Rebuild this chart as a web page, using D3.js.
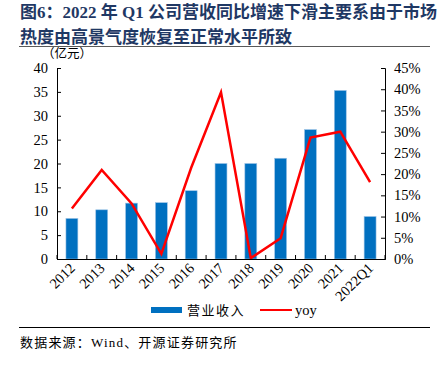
<!DOCTYPE html>
<html>
<head>
<meta charset="utf-8">
<script src="https://cdn.jsdelivr.net/npm/d3@7"></script>
<style>
  body { margin: 0; background: #fff; }
  svg { display: block; }
</style>
</head>
<body>
<div id="chart"></div>
<script>
// Data
const categories = ["2012", "2013", "2014", "2015", "2016", "2017", "2018", "2019", "2020", "2021", "2022Q1"];
const revenue = [8.5, 10.3, 11.7, 11.8, 14.3, 20.0, 20.0, 21.1, 27.1, 35.3, 8.9];
const yoy = [11.9, 21.0, 13.1, 1.2, 21.5, 39.3, 0.2, 4.9, 28.6, 30.0, 18.1];
const leftTicks = [0, 5, 10, 15, 20, 25, 30, 35, 40];
const rightTicks = [0, 5, 10, 15, 20, 25, 30, 35, 40, 45];

const W = 441, H = 365;
const SERIF = "'Liberation Serif', 'Times New Roman', 'Noto Sans CJK SC', serif";
const CJK = "'Liberation Serif', 'Noto Sans CJK SC', serif";
const TITLE_COLOR = "#1f3864";
const BAR_COLOR = "#0070c0";

const plot = { left: 57, right: 385, top: 68, bottom: 259 };

const svg = d3.select("#chart").append("svg")
  .attr("width", W)
  .attr("height", H);

// Title
const title = svg.append("text")
  .attr("fill", TITLE_COLOR)
  .attr("font-family", CJK)
  .attr("font-weight", "bold")
  .attr("font-size", "17px");
title.append("tspan").attr("x", 20).attr("y", 18).text("图6：2022 年 Q1 公司营收同比增速下滑主要系由于市场");
title.append("tspan").attr("x", 20).attr("y", 43).text("热度由高景气度恢复至正常水平所致");

svg.append("line")
  .attr("x1", 19).attr("x2", 430)
  .attr("y1", 46.5).attr("y2", 46.5)
  .attr("stroke", "#595959").attr("stroke-width", 1.2);

// Scales
const x = d3.scaleBand()
  .domain(categories)
  .range([plot.left, plot.right]);

const yL = d3.scaleLinear()
  .domain([0, 40])
  .range([plot.bottom, plot.top]);

const yR = d3.scaleLinear()
  .domain([0, 45])
  .range([plot.bottom, plot.top]);

// Bars
svg.append("g")
  .selectAll("rect")
  .data(revenue)
  .join("rect")
  .attr("x", (d, i) => x(categories[i]) + x.bandwidth() * 0.3)
  .attr("width", x.bandwidth() * 0.4)
  .attr("y", d => yL(d))
  .attr("height", d => yL(0) - yL(d))
  .attr("fill", BAR_COLOR)
  .attr("stroke", "#9dc3e6")
  .attr("stroke-width", 0.6);

// Line
const line = d3.line()
  .x((d, i) => x(categories[i]) + x.bandwidth() / 2)
  .y(d => yR(d));

svg.append("path")
  .datum(yoy)
  .attr("d", line)
  .attr("fill", "none")
  .attr("stroke", "#ff0000")
  .attr("stroke-width", 2.5)
  .attr("stroke-linejoin", "miter");

// Axes
const leftAxis = svg.append("g")
  .attr("transform", `translate(${plot.left},0)`)
  .call(d3.axisLeft(yL).tickValues(leftTicks).tickSize(-4).tickPadding(9));

const rightAxis = svg.append("g")
  .attr("transform", `translate(${plot.right},0)`)
  .call(d3.axisRight(yR).tickValues(rightTicks).tickSize(-4).tickPadding(9).tickFormat(d => d + "%"));

const xAxis = svg.append("g")
  .attr("transform", `translate(0,${plot.bottom})`)
  .call(d3.axisBottom(x).tickSize(0).tickFormat(""));

// x ticks at band boundaries, pointing up
svg.append("g")
  .selectAll("line")
  .data(d3.range(categories.length + 1))
  .join("line")
  .attr("x1", i => plot.left + i * x.step())
  .attr("x2", i => plot.left + i * x.step())
  .attr("y1", plot.bottom)
  .attr("y2", plot.bottom - 4)
  .attr("stroke", "#000");

[leftAxis, rightAxis, xAxis].forEach(a => {
  a.select(".domain").attr("stroke", "#000").attr("stroke-width", 1);
  a.selectAll(".tick line").attr("stroke", "#000");
  a.selectAll("text")
    .attr("font-family", SERIF)
    .attr("font-size", "14.5px")
    .attr("fill", "#000");
});

// x labels rotated
svg.append("g")
  .selectAll("text")
  .data(categories)
  .join("text")
  .attr("transform", d => `translate(${x(d) + x.bandwidth() / 2 + 4},${plot.bottom + 10}) rotate(-45)`)
  .attr("text-anchor", "end")
  .attr("font-family", SERIF)
  .attr("font-size", "14.5px")
  .text(d => d);

// Unit label
svg.append("text")
  .attr("x", 42).attr("y", 58)
  .attr("font-family", CJK)
  .attr("font-size", "12.5px")
  .text("（亿元）");

// Legend
const legend = svg.append("g");
legend.append("rect")
  .attr("x", 151).attr("y", 307)
  .attr("width", 31).attr("height", 6)
  .attr("fill", BAR_COLOR);
legend.append("text")
  .attr("x", 187).attr("y", 315)
  .attr("font-family", CJK)
  .attr("font-size", "13px")
  .attr("letter-spacing", "1.5px")
  .text("营业收入");
legend.append("line")
  .attr("x1", 260).attr("x2", 292)
  .attr("y1", 310).attr("y2", 310)
  .attr("stroke", "#ff0000").attr("stroke-width", 2);
legend.append("text")
  .attr("x", 295).attr("y", 315)
  .attr("font-family", SERIF)
  .attr("font-size", "14.5px")
  .text("yoy");

// Source
svg.append("line")
  .attr("x1", 19).attr("x2", 430)
  .attr("y1", 327.5).attr("y2", 327.5)
  .attr("stroke", "#000").attr("stroke-width", 1);

svg.append("text")
  .attr("x", 20).attr("y", 347)
  .attr("font-family", CJK)
  .attr("font-size", "13px")
  .attr("letter-spacing", "1.2px")
  .text("数据来源：Wind、开源证券研究所");
</script>
</body>
</html>
